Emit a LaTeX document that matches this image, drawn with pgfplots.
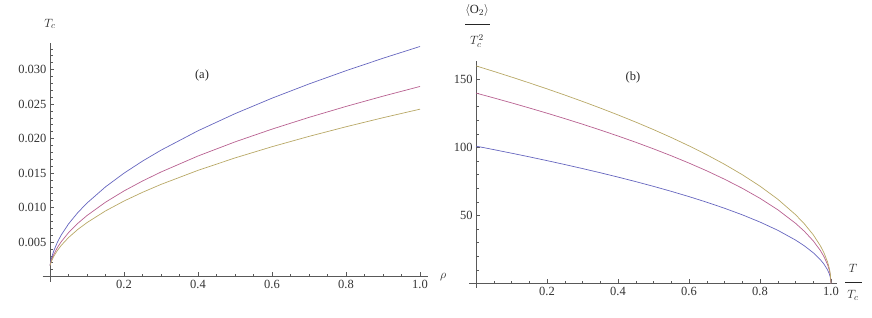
\documentclass[border=0pt]{standalone}
\usepackage{fontspec}
\setmainfont{Liberation Serif}
\usepackage{pgfplots}
\pgfplotsset{compat=1.18}
\definecolor{mblue}{rgb}{0.40,0.40,0.75}
\definecolor{mred}{rgb}{0.72,0.38,0.57}
\definecolor{myel}{rgb}{0.72,0.66,0.40}
\definecolor{axgray}{gray}{0.35}
\pgfplotsset{mma/.style={
  scale only axis, axis lines=middle, axis line style={-, axgray, line width=0.6pt},
  enlargelimits=false, clip=false,
  tick align=inside, major tick length=4.3pt, minor tick length=2.5pt,
  every tick/.style={axgray, line width=0.5pt},
  tick label style={font=\fontsize{12.5}{14}\selectfont, text=black!80},
  /pgf/number format/assume math mode=true,
  every axis plot/.append style={line width=0.7pt, no marks},
  xtick={0.2,0.4,0.6,0.8,1.0},
  minor xtick={0.05,0.1,0.15,0.25,0.3,0.35,0.45,0.5,0.55,0.65,0.7,0.75,0.85,0.9,0.95},
  xticklabel style={/pgf/number format/.cd, fixed, fixed zerofill, precision=1},
}}
\begin{document}
\begin{tikzpicture}
\path[use as bounding box] (0,0) rectangle (872pt,-318pt);
% ---------------- (a)
\begin{axis}[mma, at={(42.6pt,-281.5pt)}, anchor=south west,
  width=385.4pt, height=238.9pt,
  xmin=-0.02, xmax=1.0216, ymin=-0.00072, ymax=0.0339,
  ytick={0.005,0.010,0.015,0.020,0.025,0.030},
  minor ytick={0.001,0.002,0.003,0.004,0.006,0.007,0.008,0.009,0.011,0.012,0.013,0.014,0.016,0.017,0.018,0.019,0.021,0.022,0.023,0.024,0.026,0.027,0.028,0.029,0.031,0.032,0.033},
  scaled y ticks=false,
  yticklabel style={/pgf/number format/.cd, fixed, fixed zerofill, precision=3},
]
\addplot[mblue] coordinates {(0,0.0016) (0.002,0.002186) (0.005,0.002847) (0.01,0.003694) (0.02,0.004974) (0.03,0.005986) (0.05,0.007616) (0.075,0.009259) (0.1,0.010651) (0.15,0.012996) (0.2,0.014978) (0.25,0.016727) (0.3,0.018309) (0.4,0.021122) (0.5,0.023601) (0.6,0.025844) (0.7,0.027907) (0.8,0.029827) (0.9,0.031632) (1.0,0.033338)};
\addplot[mred] coordinates {(0,0.0016) (0.002,0.002018) (0.005,0.002518) (0.01,0.003182) (0.02,0.004205) (0.03,0.005025) (0.05,0.006354) (0.075,0.007699) (0.1,0.008842) (0.15,0.010770) (0.2,0.012402) (0.25,0.013843) (0.3,0.015147) (0.4,0.017466) (0.5,0.019511) (0.6,0.021361) (0.7,0.023064) (0.8,0.024649) (0.9,0.026138) (1.0,0.027546)};
\addplot[myel] coordinates {(0,0.0016) (0.002,0.001932) (0.005,0.002343) (0.01,0.002901) (0.02,0.003778) (0.03,0.004487) (0.05,0.005643) (0.075,0.006818) (0.1,0.007818) (0.15,0.009508) (0.2,0.010940) (0.25,0.012205) (0.3,0.013351) (0.4,0.015389) (0.5,0.017187) (0.6,0.018813) (0.7,0.020310) (0.8,0.021704) (0.9,0.023014) (1.0,0.024253)};
\end{axis}
% ---------------- (b)
\begin{axis}[mma, at={(469.3pt,-287.7pt)}, anchor=south west,
  width=367.4pt, height=226.7pt,
  xmin=-0.019, xmax=1.016, ymin=-3.1, ymax=163.6,
  ytick={50,100,150},
  minor ytick={10,20,30,40,60,70,80,90,110,120,130,140,160},
]
\addplot[mblue] coordinates {(0,101) (0.05,98.44) (0.1,95.82) (0.15,93.12) (0.2,90.34) (0.25,87.47) (0.3,84.50) (0.35,81.43) (0.4,78.23) (0.45,74.90) (0.5,71.42) (0.55,67.75) (0.6,63.88) (0.65,59.75) (0.7,55.32) (0.75,50.5) (0.8,45.17) (0.85,39.12) (0.9,31.94) (0.925,27.66) (0.95,22.58) (0.97,17.49) (0.98,14.28) (0.99,10.1) (0.995,7.14) (0.998,4.52) (1.0,0)};
\addplot[mred] coordinates {(0,140) (0.05,136.46) (0.1,132.82) (0.15,129.07) (0.2,125.22) (0.25,121.24) (0.3,117.13) (0.35,112.87) (0.4,108.44) (0.45,103.83) (0.5,98.99) (0.55,93.91) (0.6,88.54) (0.65,82.83) (0.7,76.68) (0.75,70) (0.8,62.61) (0.85,54.22) (0.9,44.27) (0.925,38.34) (0.95,31.30) (0.97,24.25) (0.98,19.80) (0.99,14.0) (0.995,9.90) (0.998,6.26) (1.0,0)};
\addplot[myel] coordinates {(0,160) (0.05,155.95) (0.1,151.79) (0.15,147.51) (0.2,143.11) (0.25,138.56) (0.3,133.87) (0.35,129.00) (0.4,123.94) (0.45,118.66) (0.5,113.14) (0.55,107.33) (0.6,101.19) (0.65,94.66) (0.7,87.64) (0.75,80) (0.8,71.55) (0.85,61.97) (0.9,50.60) (0.925,43.82) (0.95,35.78) (0.97,27.71) (0.98,22.63) (0.99,16.0) (0.995,11.31) (0.998,7.16) (1.0,0)};
\end{axis}
% ---------------- labels
\begin{scope}[every node/.style={font=\fontsize{12.5}{14}\selectfont, text=black!85, inner sep=1pt}]
\node at (50pt,-24pt) {$T_c$};
\node[anchor=west] at (439pt,-277pt) {$\rho$};
\node at (202pt,-75pt) {(a)};
\node at (477pt,-11pt) {$\langle \mathrm{O}_2\rangle$};
\draw[black!85, line width=0.5pt] (465pt,-24.3pt) -- (490pt,-24.3pt);
\node at (477pt,-41pt) {$T_c^2$};
\node at (853pt,-268pt) {$T$};
\draw[black!85, line width=0.5pt] (845pt,-282.7pt) -- (862pt,-282.7pt);
\node at (853pt,-295pt) {$T_c$};
\node at (633pt,-77.5pt) {(b)};
\end{scope}
\end{tikzpicture}
\end{document}
